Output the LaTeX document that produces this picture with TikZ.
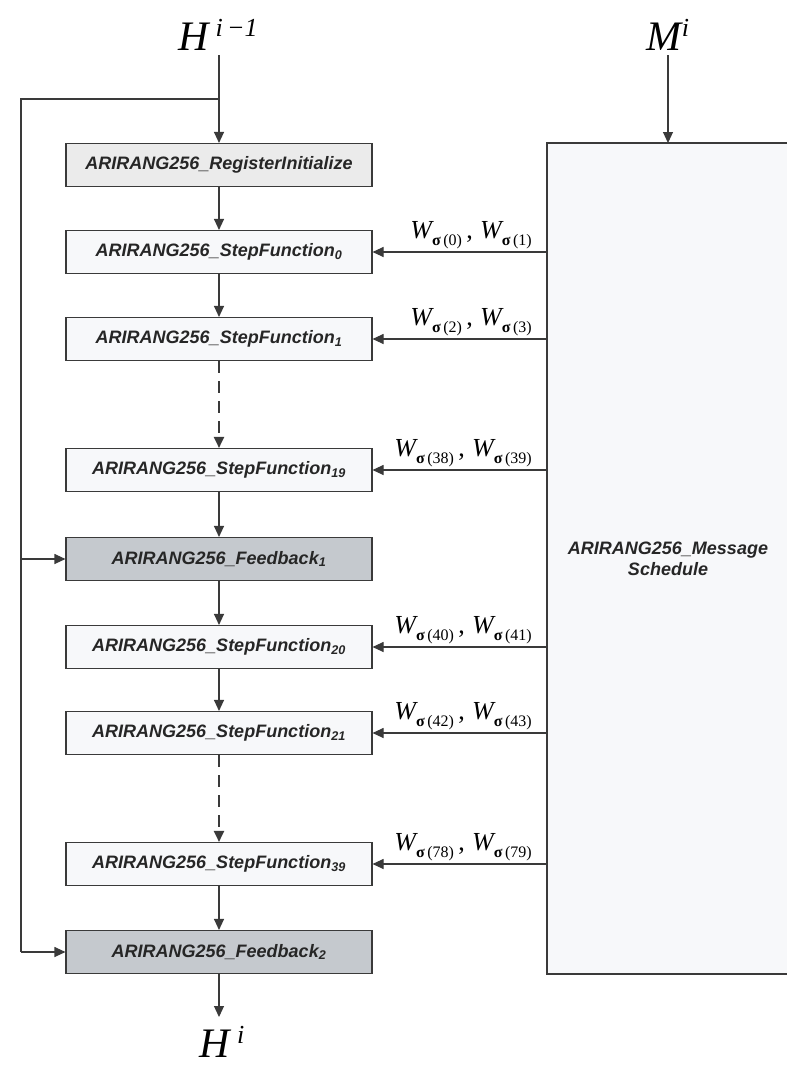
\documentclass[tikz,border=0pt]{standalone}
\usepackage{fontspec}
\setsansfont{Liberation Sans}
\newfontfamily\tms{Liberation Serif}
\usetikzlibrary{arrows.meta}
\definecolor{linec}{HTML}{3A3A3A}
\definecolor{initfill}{HTML}{EBEBEB}
\definecolor{stepfill}{HTML}{F7F8FA}
\definecolor{fbfill}{HTML}{C5C9CE}
\newcommand{\Wsub}[1]{\raisebox{-0.6ex}{\fontsize{16}{16}\selectfont\tms\bfseries σ\,\mdseries(#1)}}
\newcommand{\Wpair}[2]{{\tms\itshape W}\Wsub{#1}\,{\tms ,}\;{\tms\itshape W}\Wsub{#2}}
\tikzset{
  blk/.style={draw=linec, line width=1.1pt, minimum width=306pt, minimum height=43pt,
    inner sep=0pt, font=\fontsize{18}{20}\selectfont\sffamily\bfseries\itshape, text=black!85},
  initbox/.style={blk, fill=initfill},
  stepbox/.style={blk, fill=stepfill},
  fbbox/.style={blk, fill=fbfill},
  conn/.style={draw=linec, line width=1.1pt, -{Triangle[length=11pt,width=10pt]}},
  dconn/.style={conn, line width=2.2pt, dash pattern=on 12pt off 8pt},
  wlab/.style={font=\fontsize{26}{26}\selectfont, inner sep=0pt, anchor=south east},
  big/.style={font=\fontsize{42}{42}\selectfont\tms, inner sep=0pt}
}
\begin{document}
\begin{tikzpicture}[x=1pt,y=-1pt]
\useasboundingbox (0,0) rectangle (787,1079);
% message schedule box
\draw[draw=linec, line width=1.1pt, fill=stepfill] (810,143) -- (547,143) -- (547,974) -- (810,974);
\node[font=\fontsize{18}{21}\selectfont\sffamily\bfseries\itshape, align=center, text=black!85] (ms) at (668,559) {ARIRANG256\_Message\\Schedule};
\coordinate (mstop) at (668,143);
% labels
\node[big] (hin) at (218,35) {\itshape H\,\raisebox{0.75ex}{\fontsize{26}{26}\selectfont\itshape i\,−1}};
\node[big] (mi) at (668,35) {\itshape M\raisebox{0.75ex}{\fontsize{26}{26}\selectfont\itshape i}};
\node[big] (hout) at (222,1042) {\itshape H\,\raisebox{0.75ex}{\fontsize{26}{26}\selectfont\itshape i}};
% boxes
\node[initbox] (ri) at (219,165) {ARIRANG256\_RegisterInitialize};
\node[stepbox] (s0) at (219,252) {ARIRANG256\_StepFunction\textsubscript{0}};
\node[stepbox] (s1) at (219,339) {ARIRANG256\_StepFunction\textsubscript{1}};
\node[stepbox] (s19) at (219,470) {ARIRANG256\_StepFunction\textsubscript{19}};
\node[fbbox] (f1) at (219,559) {ARIRANG256\_Feedback\textsubscript{1}};
\node[stepbox] (s20) at (219,647) {ARIRANG256\_StepFunction\textsubscript{20}};
\node[stepbox] (s21) at (219,733) {ARIRANG256\_StepFunction\textsubscript{21}};
\node[stepbox] (s39) at (219,864) {ARIRANG256\_StepFunction\textsubscript{39}};
\node[fbbox] (f2) at (219,952) {ARIRANG256\_Feedback\textsubscript{2}};
% input lines
\coordinate (hstart) at (219,55);
\coordinate (junc) at (219,99);
\coordinate (lt) at (21,99);
\coordinate (lb) at (21,952);
\draw[conn] (hstart) -- (ri);
\draw[draw=linec, line width=1.1pt] (junc) -- (lt) -- (lb);
\draw[conn] (21,559) -- (f1.west);
\draw[conn] (lb) -- (f2.west);
\coordinate (mstart) at (668,55);
\draw[conn] (mstart) -- (mstop);
% vertical chain
\draw[conn] (ri) -- (s0);
\draw[conn] (s0) -- (s1);
\draw[dconn] (s1) -- (s19);
\draw[conn] (s19) -- (f1);
\draw[conn] (f1) -- (s20);
\draw[conn] (s20) -- (s21);
\draw[dconn] (s21) -- (s39);
\draw[conn] (s39) -- (f2);
\coordinate (hend) at (219,1017);
\draw[conn] (f2) -- (hend);
% W arrows
\foreach \n/\a/\b in {s0/0/1, s1/2/3, s19/38/39, s20/40/41, s21/42/43, s39/78/79}{
  \coordinate (w\n) at (547,0 |- \n.east);
  \draw[conn] (w\n) -- (\n.east);
  \node[wlab] (l\n) at ([shift={(-15pt,3pt)}]w\n) {\Wpair{\a}{\b}};
}
\end{tikzpicture}
\end{document}
